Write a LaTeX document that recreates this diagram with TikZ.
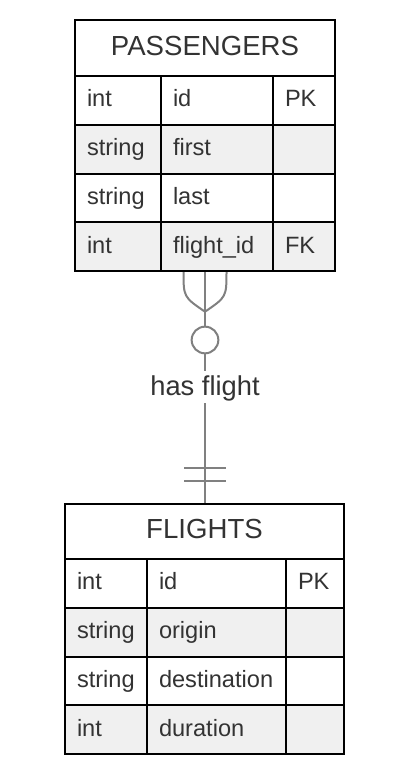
\documentclass[tikz,border=0pt]{standalone}
\usepackage{fontspec}
\setmainfont{Liberation Sans}
\usepackage{tikz}
\usetikzlibrary{positioning}
\usetikzlibrary{calc}
\definecolor{rowgray}{RGB}{240,240,240}
\definecolor{ink}{RGB}{51,51,51}
\definecolor{relgray}{RGB}{128,128,128}
\tikzstyle{frame}=[draw,line width=2pt,anchor=north west,outer sep=0pt,inner sep=0pt]
\tikzstyle{tablehead}=[draw,line width=2pt,anchor=north west,outer sep=0pt,inner sep=0pt,minimum height=55.5pt,text=ink,font=\fontsize{27.6}{32}\selectfont,text height=19.8pt,text depth=5.5pt]
\tikzstyle{cell}=[draw,line width=2pt,anchor=north west,outer sep=0pt,inner xsep=12pt,inner ysep=0pt,minimum height=48.75pt,align=left,text=ink,font=\fontsize{23.6}{28}\selectfont,text height=17pt,text depth=4.2pt]
\tikzstyle{rel} = [draw,line width=2pt,relgray]
\tikzstyle{zeromark}=[circle,draw=relgray,line width=2pt,fill=white,minimum size=26.7pt,inner sep=0pt,outer sep=0pt]
\tikzstyle{rellabel}=[fill=white,text=ink,font=\fontsize{27.3}{32}\selectfont,inner sep=2pt,text height=22pt,text depth=6pt]

\begin{document}
\begin{tikzpicture}[x=1pt,y=-1pt]
    \useasboundingbox (0,0) rectangle (400,784);

    % The two tables as frames first
    \node[frame,minimum width=260pt,minimum height=250.5pt] (passengers) at (75,20.5) {};
    \node[frame,minimum width=279pt,minimum height=250.5pt] (flights) at (65,503.5) {};

    % Relationship: many (zero or more) passengers -- exactly one flight
    \node[zeromark] (zeroMark) at (205,340) {};
    \node[rellabel,anchor=base] (hasFlight) at (205,395) {has flight};

    \draw[rel] (passengers.south) -- (zeroMark.north);
    \foreach \side in {-21.5, 21.5}
        \draw[rel] ($(passengers.south)+(\side,0)$) .. controls ($(passengers.south)+(\side,26)$) .. ($(passengers.south)+(0,40.7)$);
    \draw[rel] (zeroMark.south) -- (hasFlight.north);
    \draw[rel] (hasFlight.south) -- (hasFlight.south |- flights.north);
    \foreach \up in {35.7, 22.3}
        \draw[rel] ($(hasFlight.south |- flights.north)+(-20.7,-\up)$) -- ++(41.4,0);

    % PASSENGERS table
    \node[tablehead,minimum width=260pt] (pHead) at (75,20.5) {PASSENGERS};
    \foreach \y/\r/\type/\field/\key/\rowfill in {76/1/int/id/PK/white, 124.75/2/string/first//rowgray, 173.5/3/string/last//white, 222.25/4/int/flight\_id/FK/rowgray}
    {
        \node[cell,fill=\rowfill,text width=62pt] (pType\r) at (75,\y) {\type};
        \node[cell,fill=\rowfill,text width=88pt] (pName\r) at (161,\y) {\field};
        \node[cell,fill=\rowfill,text width=38pt] (pKey\r) at (273,\y) {\key};
    }

    % FLIGHTS table
    \node[tablehead,minimum width=279pt] (fHead) at (65,503.5) {FLIGHTS};
    \foreach \y/\r/\type/\field/\key/\rowfill in {559/1/int/id/PK/white, 607.75/2/string/origin//rowgray, 656.5/3/string/destination//white, 705.25/4/int/duration//rowgray}
    {
        \node[cell,fill=\rowfill,text width=58pt] (fType\r) at (65,\y) {\type};
        \node[cell,fill=\rowfill,text width=115pt] (fName\r) at (147,\y) {\field};
        \node[cell,fill=\rowfill,text width=34pt] (fKey\r) at (286,\y) {\key};
    }
\end{tikzpicture}
\end{document}
